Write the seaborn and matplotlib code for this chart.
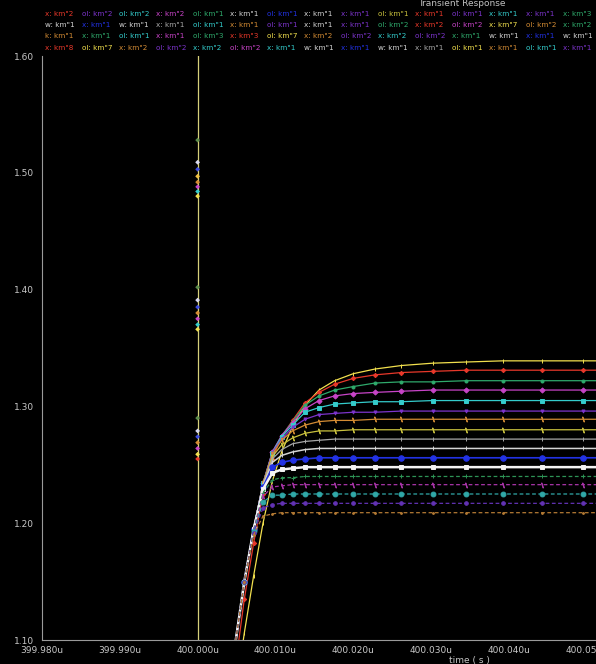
import matplotlib
matplotlib.use("Agg")
import matplotlib.pyplot as plt
from matplotlib.ticker import MultipleLocator, FuncFormatter
import seaborn as sns

# ---- data -------------------------------------------------------------
# simulation time points (in microseconds)
time_us = [400.0030, 400.0048, 400.0060, 400.0072, 400.0084, 400.0096,
           400.0108, 400.0122, 400.0138, 400.0156, 400.0176, 400.0200,
           400.0228, 400.0262, 400.0302, 400.0345, 400.0392, 400.0442,
           400.0495, 400.0560]

v_yellow = [0.990, 1.049, 1.106, 1.155, 1.200, 1.236, 1.261, 1.283, 1.301, 1.314,
            1.322, 1.328, 1.332, 1.335, 1.337, 1.338, 1.339, 1.339, 1.339, 1.339]
v_red = [0.995, 1.075, 1.135, 1.183, 1.225, 1.255, 1.274, 1.288, 1.303, 1.312,
         1.319, 1.324, 1.327, 1.329, 1.330, 1.331, 1.331, 1.331, 1.331, 1.331]
v_green = [1.000, 1.095, 1.150, 1.195, 1.234, 1.261, 1.275, 1.287, 1.301, 1.309,
           1.314, 1.317, 1.320, 1.321, 1.321, 1.322, 1.322, 1.322, 1.322, 1.322]
v_magenta = [1.000, 1.095, 1.150, 1.195, 1.234, 1.261, 1.275, 1.286, 1.298, 1.305,
             1.309, 1.311, 1.312, 1.313, 1.314, 1.314, 1.314, 1.314, 1.314, 1.314]
v_cyan = [1.000, 1.095, 1.150, 1.195, 1.234, 1.260, 1.274, 1.284, 1.295, 1.299,
          1.302, 1.303, 1.304, 1.304, 1.305, 1.305, 1.305, 1.305, 1.305, 1.305]
v_purple = [1.000, 1.095, 1.150, 1.195, 1.234, 1.260, 1.272, 1.282, 1.289, 1.293,
            1.294, 1.295, 1.295, 1.296, 1.296, 1.296, 1.296, 1.296, 1.296, 1.296]
v_orange = [1.000, 1.095, 1.150, 1.195, 1.234, 1.259, 1.271, 1.279, 1.284, 1.287,
            1.288, 1.288, 1.289, 1.289, 1.289, 1.289, 1.289, 1.289, 1.289, 1.289]
v_olive = [1.000, 1.095, 1.150, 1.195, 1.233, 1.257, 1.267, 1.273, 1.277, 1.279,
           1.279, 1.280, 1.280, 1.280, 1.280, 1.280, 1.280, 1.280, 1.280, 1.280]
v_gray = [1.000, 1.095, 1.150, 1.195, 1.233, 1.255, 1.263, 1.268, 1.270, 1.271,
          1.272, 1.272, 1.272, 1.272, 1.272, 1.272, 1.272, 1.272, 1.272, 1.272]
v_silver = [1.000, 1.095, 1.150, 1.195, 1.232, 1.252, 1.258, 1.261, 1.263, 1.264,
            1.264, 1.264, 1.264, 1.264, 1.264, 1.264, 1.264, 1.264, 1.264, 1.264]
v_blue = [1.000, 1.095, 1.150, 1.195, 1.231, 1.248, 1.252, 1.254, 1.255, 1.256,
          1.256, 1.256, 1.256, 1.256, 1.256, 1.256, 1.256, 1.256, 1.256, 1.256]
v_white = [1.000, 1.095, 1.150, 1.195, 1.229, 1.243, 1.246, 1.247, 1.248, 1.248,
           1.248, 1.248, 1.248, 1.248, 1.248, 1.248, 1.248, 1.248, 1.248, 1.248]
v_green_d = [1.000, 1.095, 1.150, 1.194, 1.226, 1.237, 1.239, 1.239, 1.240, 1.240,
             1.240, 1.240, 1.240, 1.240, 1.240, 1.240, 1.240, 1.240, 1.240, 1.240]
v_magenta_d = [1.000, 1.095, 1.150, 1.194, 1.223, 1.231, 1.232, 1.233, 1.233, 1.233,
               1.233, 1.233, 1.233, 1.233, 1.233, 1.233, 1.233, 1.233, 1.233, 1.233]
v_teal_d = [1.000, 1.095, 1.150, 1.193, 1.218, 1.224, 1.224, 1.225, 1.225, 1.225,
            1.225, 1.225, 1.225, 1.225, 1.225, 1.225, 1.225, 1.225, 1.225, 1.225]
v_purple_d = [1.000, 1.095, 1.150, 1.192, 1.213, 1.216, 1.217, 1.217, 1.217, 1.217,
              1.217, 1.217, 1.217, 1.217, 1.217, 1.217, 1.217, 1.217, 1.217, 1.217]
v_orange_d = [1.000, 1.095, 1.150, 1.190, 1.206, 1.208, 1.209, 1.209, 1.209, 1.209,
              1.209, 1.209, 1.209, 1.209, 1.209, 1.209, 1.209, 1.209, 1.209, 1.209]

# input step at t = 400.000u
step_t = [399.970, 400.000, 400.000, 400.060]
step_v = [0.90, 0.90, 1.80, 1.80]

# swept-curve markers sitting on the step edge
spike_v = [1.528, 1.509, 1.503, 1.497, 1.492, 1.488, 1.484, 1.480,
           1.402, 1.391, 1.385, 1.380, 1.375, 1.370, 1.366,
           1.290, 1.279, 1.274, 1.269, 1.264, 1.259, 1.255]

x_ticks = [399.980, 399.990, 400.000, 400.010, 400.020, 400.030, 400.040, 400.050]
y_ticks = [1.10, 1.20, 1.30, 1.40, 1.50, 1.60]

# ---- styling ----------------------------------------------------------
palette = {
    "yellow": "#f2e04e", "red": "#e8382a", "green": "#2faa6c", "magenta": "#c844c8",
    "cyan": "#34cccc", "purple": "#7c34cc", "orange": "#d48c34", "olive": "#cac23e",
    "gray": "#a8a8a8", "silver": "#d4d4d4", "blue": "#2232e4", "white": "#f4f4f4",
    "green_d": "#2e9456", "magenta_d": "#a834a8", "teal_d": "#30a8a8",
    "purple_d": "#6232b4", "orange_d": "#b47a34",
}

curves = [
    (v_yellow, "yellow", "-", "|", 0.9, 3.5),
    (v_red, "red", "-", "D", 0.9, 2.2),
    (v_green, "green", "-", "o", 0.9, 2.2),
    (v_magenta, "magenta", "-", "D", 0.9, 2.6),
    (v_cyan, "cyan", "-", "s", 0.9, 2.6),
    (v_purple, "purple", "-", "v", 0.9, 2.2),
    (v_orange, "orange", "-", "$\\backslash$", 0.9, 3.5),
    (v_olive, "olive", "-", "$\\backslash$", 0.9, 3.5),
    (v_gray, "gray", "-", "|", 0.9, 2.8),
    (v_silver, "silver", "-", "|", 1.1, 3.2),
    (v_blue, "blue", "-", "o", 1.2, 4.0),
    (v_white, "white", "-", "s", 1.8, 2.6),
    (v_green_d, "green_d", (0, (3, 2)), "+", 0.9, 3.0),
    (v_magenta_d, "magenta_d", (0, (3, 2)), "$\\backslash$", 0.9, 3.5),
    (v_teal_d, "teal_d", (0, (3, 2)), "o", 0.9, 3.5),
    (v_purple_d, "purple_d", (0, (3, 2)), "o", 0.9, 2.6),
    (v_orange_d, "orange_d", (0, (3, 2)), ".", 0.9, 2.6),
]

legend_rows = [
    (['x: km"2', 'ol: km"2', 'ol: km"2', 'x: km"2', 'ol: km"1', 'x: km"1', 'ol: km"1', 'x: km"1',
      'x: km"1', 'ol: km"1', 'x: km"1', 'ol: km"1', 'x: km"1', 'x: km"1', 'x: km"3'],
     ["red", "purple", "cyan", "magenta", "green", "silver", "blue", "silver",
      "purple", "olive", "red", "purple", "cyan", "purple", "green"]),
    (['w: km"1', 'x: km"1', 'w: km"1', 'x: km"1', 'ol: km"1', 'x: km"1', 'ol: km"1', 'x: km"1',
      'x: km"1', 'ol: km"2', 'x: km"2', 'ol: km"2', 'x: km"7', 'ol: km"2', 'x: km"2'],
     ["silver", "blue", "silver", "gray", "cyan", "orange", "purple", "silver",
      "purple", "green", "red", "magenta", "yellow", "orange", "green"]),
    (['k: km"1', 'x: km"1', 'ol: km"1', 'x: km"1', 'ol: km"3', 'x: km"3', 'ol: km"7', 'x: km"2',
      'ol: km"2', 'x: km"2', 'ol: km"2', 'x: km"1', 'w: km"1', 'x: km"1', 'w: km"1'],
     ["orange", "green", "cyan", "magenta", "green", "red", "yellow", "orange",
      "purple", "cyan", "purple", "green", "silver", "blue", "silver"]),
    (['x: km"8', 'ol: km"7', 'x: km"2', 'ol: km"2', 'x: km"2', 'ol: km"2', 'x: km"1', 'w: km"1',
      'x: km"1', 'w: km"1', 'x: km"1', 'ol: km"1', 'x: km"1', 'ol: km"1', 'x: km"1'],
     ["red", "yellow", "orange", "purple", "cyan", "magenta", "cyan", "silver",
      "blue", "silver", "gray", "yellow", "orange", "cyan", "purple"]),
]

sns.set_style("dark")
plt.rcParams["font.family"] = ["DejaVu Sans"]

W, H = 596, 664
fig = plt.figure(figsize=(W / 100, H / 100), dpi=100, facecolor="black")
ax = fig.add_axes([42 / W, 1 - 640 / H, 1 - 42 / W, (640 - 56) / H])
ax.set_facecolor("black")

# input step edge
sns.lineplot(x=step_t, y=step_v, ax=ax, color="#d6d07a", linewidth=0.9,
             estimator=None, sort=False, legend=False)

spike_colors = ["#5a8a4a", "#d8d8f0", "#3a4ae0", "#f0c040", "#d48c34", "#c844c8", "#34cccc", "#f2e04e",
                "#5a8a4a", "#d8d8f0", "#3a4ae0", "#d48c34", "#c844c8", "#34cccc", "#f2e04e",
                "#5a8a4a", "#d8d8f0", "#3a4ae0", "#d48c34", "#c844c8", "#f2e04e", "#e8382a"]

# response family
for vals, cname, ls, mk, lw, ms in curves:
    col = palette[cname]
    sns.lineplot(x=time_us, y=vals, ax=ax, color=col, linestyle=ls, linewidth=lw,
                 marker=mk, markersize=ms, markeredgecolor=col, markerfacecolor=col,
                 markeredgewidth=0.7, estimator=None, sort=False, legend=False)

sns.scatterplot(x=[400.000] * len(spike_v), y=spike_v, ax=ax, color=spike_colors,
                marker="D", s=6, linewidth=0, legend=False, zorder=5)

ax.set_xlim(399.980, 400.0512)
ax.set_ylim(1.10, 1.60)
ax.set_xticks(x_ticks)
ax.set_yticks(y_ticks)
ax.xaxis.set_minor_locator(MultipleLocator(0.001))
ax.yaxis.set_minor_locator(MultipleLocator(0.01))
ax.xaxis.set_major_formatter(FuncFormatter(lambda v, p: f"{v:.3f}u"))
ax.yaxis.set_major_formatter(FuncFormatter(lambda v, p: f"{v:.2f}"))
ax.tick_params(axis="both", which="major", direction="in", length=5, width=0.8,
               color="#9a9a9a", labelcolor="#c8c8c8", labelsize=6.5)
ax.tick_params(axis="both", which="minor", direction="in", length=2.5, width=0.6,
               color="#8a8a8a")
ax.tick_params(axis="x", pad=4)
ax.tick_params(axis="y", pad=6)
ax.grid(False)
for side in ("top", "right"):
    ax.spines[side].set_visible(False)
for side in ("left", "bottom"):
    ax.spines[side].set_color("#9a9a9a")
    ax.spines[side].set_linewidth(0.8)
ax.set_xlabel("")
ax.set_ylabel("")

# header: title and trace labels
fig.text(462 / W, 1 - 3 / H, "Transient Response", ha="center", va="center",
         fontsize=6.5, color="#c0c0c0")
row_y = [14, 25, 36, 48]
for (labels, cols), yy in zip(legend_rows, row_y):
    for k, (lab, cname) in enumerate(zip(labels, cols)):
        fig.text((45 + 37 * k) / W, 1 - yy / H, lab, ha="left", va="center",
                 fontsize=5.2, color=palette[cname])

fig.text(469 / W, 1 - 660 / H, "time ( s )", ha="center", va="center",
         fontsize=6.5, color="#c8c8c8")

fig.savefig("out.png", dpi=100, facecolor="black")
